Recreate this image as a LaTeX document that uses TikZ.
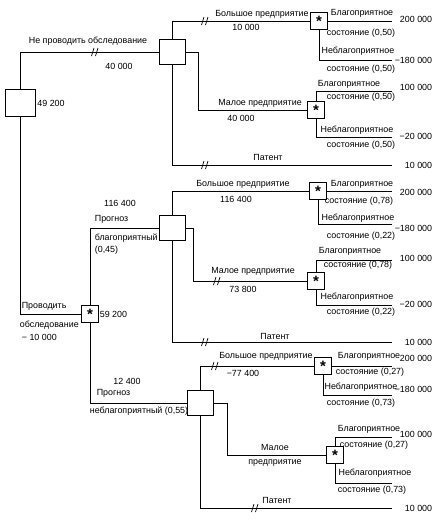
\documentclass[tikz,border=0pt]{standalone}
\usepackage{fontspec}
\setmainfont{Liberation Sans}
\begin{document}
\begin{tikzpicture}[x=1pt,y=-1pt,
  line width=0.7pt,
  dec/.style={draw,line width=0.9pt,minimum width=26pt,minimum height=25pt,inner sep=0pt},
  chn/.style={draw,line width=1.4pt,minimum size=17pt,inner sep=0pt},
  lbl/.style={font=\fontsize{8.9}{9}\selectfont,inner sep=0.5pt},
  val/.style={lbl,anchor=east},
  lw/.style={lbl,anchor=west},
  brk/.pic={\draw[line width=0.7pt] (-3.5,4)--(-1,-4) (0.5,4)--(3,-4);}
]
\newcommand{\chs}{\raisebox{-0.45ex}{\fontsize{15}{15}\selectfont\bfseries *}}
\useasboundingbox (0,0) rectangle (439,525);
% decision and chance nodes
\node[dec,minimum width=30pt,minimum height=27pt] (root) at (20,103) {};
\node[dec] (d1) at (172,52) {};
\node[dec] (d2) at (172,228) {};
\node[dec] (d3) at (200,403) {};
\node[chn] (c0) at (90,314) {\chs};
\node[chn] (c1) at (319,21) {\chs};
\node[chn] (c2) at (316,110) {\chs};
\node[chn] (c3) at (318,191) {\chs};
\node[chn] (c4) at (316,281) {\chs};
\node[chn] (c5) at (323,366) {\chs};
\node[chn] (c6) at (335,455) {\chs};
% end points
\coordinate (e1a) at (392,21);  \coordinate (e1b) at (392,60);
\coordinate (e2a) at (392,91);  \coordinate (e2b) at (392,137);
\coordinate (e1p) at (392,165);
\coordinate (e3a) at (392,191); \coordinate (e3b) at (392,224);
\coordinate (e4a) at (392,260); \coordinate (e4b) at (392,305);
\coordinate (e2p) at (392,342);
\coordinate (e5a) at (392,366); \coordinate (e5b) at (392,395);
\coordinate (e6a) at (392,437); \coordinate (e6b) at (392,483);
\coordinate (e3p) at (392,508);

\node[lbl] (r49) at (51,103) {49 200};
% no survey
\draw (root.north) |- (d1.west);
\pic at (95,52) {brk};
\node[lbl] (t1) at (88,41) {Не проводить обследование};
\node[lbl] (t2) at (119,66) {40 000};
% d1 large
\draw (d1.north) |- (c1.west);
\pic at (205,21) {brk};
\node[lbl] (t3) at (262,14) {Большое предприятие};
\node[lbl] (t4) at (246,27) {10 000};
\draw (c1.east) -- (e1a);
\node[lbl] at (362,13) {Благоприятное};
\node[lbl] at (361,33) {состояние (0,50)};
\node[val] at (433,19) {200 000};
\draw (c1.south) |- (e1b);
\node[lbl] at (358,51) {Неблагоприятное};
\node[lbl] at (361,69) {состояние (0,50)};
\node[val] at (433,60) {−180 000};
% d1 small
\draw (d1.east) -- ++(13,0) |- (c2.west);
\node[lbl] at (260,103) {Малое предприятие};
\node[lbl] at (241,118) {40 000};
\draw (c2.north) |- (e2a);
\node[lbl] at (349,84) {Благоприятное};
\node[lbl] at (361,97) {состояние (0,50)};
\node[val] at (433,87) {100 000};
\draw (c2.south) |- (e2b);
\node[lbl] at (357,130) {Неблагоприятное};
\node[lbl] at (361,145) {состояние (0,50)};
\node[val] at (433,136) {−20 000};
% d1 patent
\draw (d1.south) |- (e1p);
\pic at (205,165) {brk};
\node[lbl] at (268,157) {Патент};
\node[val] at (433,165) {10 000};

% survey
\draw (root.south) |- (c0.west);
\node[lw] at (21,306) {Проводить};
\node[lw] at (19,325) {обследование};
\node[lw] at (21,337) {− 10 000};
\node[lw] at (99,314) {59 200};
% favourable forecast
\draw (c0.north) |- (d2.west);
\node[lbl] at (120,203) {116 400};
\node[lw] at (94,219) {Прогноз};
\node[lw] at (94,238) {благоприятный};
\node[lw] at (94,250) {(0,45)};
\draw (d2.north) |- (c3.west);
\node[lbl] at (243,184) {Большое предприятие};
\node[lbl] at (236,199) {116 400};
\draw (c3.east) -- (e3a);
\node[lbl] at (362,184) {Благоприятное};
\node[lbl] at (359,201) {состояние (0,78)};
\node[val] at (433,192) {200 000};
\draw (c3.south) |- (e3b);
\node[lbl] at (358,218) {Неблагоприятное};
\node[lbl] at (361,236) {состояние (0,22)};
\node[val] at (433,228) {−180 000};
\draw (d2.east) -- ++(8,0) |- (c4.west);
\pic at (217,281) {brk};
\node[lbl] at (253,271) {Малое предприятие};
\node[lbl] at (243,289) {73 800};
\draw (c4.north) |- (e4a);
\node[lbl] at (350,251) {Благоприятное};
\node[lbl] at (358,265) {состояние (0,78)};
\node[val] at (433,258) {100 000};
\draw (c4.south) |- (e4b);
\node[lbl] at (357,297) {Неблагоприятное};
\node[lbl] at (361,312) {состояние (0,22)};
\node[val] at (433,304) {−20 000};
\draw (d2.south) |- (e2p);
\pic at (205,342) {brk};
\node[lbl] at (275,336) {Патент};
\node[val] at (433,342) {10 000};
% unfavourable forecast
\draw (c0.south) |- (d3.west);
\node[lbl] at (127,381) {12 400};
\node[lw] at (96,393) {Прогноз};
\node[lbl] at (139,411) {неблагоприятный (0,55)};
\draw (d3.north) |- (c5.west);
\pic at (215,366) {brk};
\node[lbl] at (266,356) {Большое предприятие};
\node[lbl] at (243,373) {−77 400};
\draw (c5.east) -- (e5a);
\node[lbl] at (369,356) {Благоприятное};
\node[lbl] at (370,372) {состояние (0,27)};
\node[val] at (433,358) {200 000};
\draw (c5.south) |- (e5b);
\node[lbl] at (361,387) {Неблагоприятное};
\node[lbl] at (361,403) {состояние (0,73)};
\node[val] at (433,389) {−180 000};
\draw (d3.east) -- ++(13.5,0) |- (c6.west);
\node[lbl] at (275,447) {Малое};
\node[lbl] at (275,463) {предприятие};
\draw (c6.north) |- (e6a);
\node[lbl] at (369,429) {Благоприятное};
\node[lbl] at (374,445) {состояние (0,27)};
\node[val] at (433,434) {100 000};
\draw (c6.south) |- (e6b);
\node[lbl] at (375,473) {Неблагоприятное};
\node[lbl] at (372,490) {состояние (0,73)};
\draw (d3.south) |- (e3p);
\pic at (255,508) {brk};
\node[lbl] at (277,500) {Патент};
\node[val] at (433,508) {10 000};
\end{tikzpicture}
\end{document}
